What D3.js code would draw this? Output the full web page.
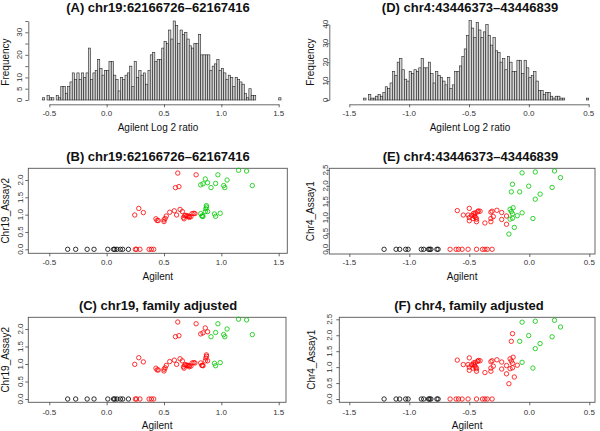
<!DOCTYPE html>
<html><head><meta charset="utf-8">
<script src="https://cdn.jsdelivr.net/npm/d3@7"></script>
<style>
html,body{margin:0;padding:0;background:#fff;}
svg{display:block;font-family:"Liberation Sans",Arial,Helvetica,sans-serif;}
</style></head>
<body><svg id="c" width="600" height="431"></svg>
<script>
// ---------- DATA ----------
// Histogram A (chr19) : bin start, bin width, counts
const histAStart = -0.56, histABin = 0.02;
const histACounts = [1,0,2,1,1,0,2,1,6,6, 3,6,8,12,9,12,9,12,10,12, 23,9,12,13,18,14,11,13,13,17,
  17,11,9,4,10,9,11,12,15,6, 17,10,13,11,12,7,13,20,21,17, 18,18,23,26,25,31,27,35,33,25,
  31,29,30,27,24,23,25,25,29,20, 20,20,20,13,15,16,18,13,14,12, 9,11,10,6,10,9,8,7,3,1,
  5,2,2, 0,0,0,0,0,0,0,0,0,0, 1];
// Histogram D (chr4)
const histDStart = -1.38, histDBin = 0.02;
const histDCounts = [1,0,3,1,1,2,3,2,4,7, 6,9,15,13,20,22,16,11,10,15, 14,16,15,17,22,17,17,20,14,9,
  15,13,12,10,8,12,6,8,15,15, 18,23,27,34,42,38,33,41,37,33, 36,40,34,29,33,26,25,20,22,16,
  23,20,15,15,21,21,14,21,17,12, 13,15,10,5,5,3,4,4,2,1, 2,2,1,1,0, 0,0,0,0,0,0,0,0, 1];

const histATicksX = [-0.5,0,0.5,1,1.5];
const histATicksY = [0,5,10,15,20,25,30,35];
const histALabelsY = [0,5,10,20,30];
const histDTicksX = [-1.5,-1,-0.5,0,0.5];
const histDTicksY = [0,10,20,30,40];

// chr19 scatter (panels B, C): Agilent vs Chr19_Assay2; group 0=black 1=red 2=green
const chr19Agilent = [
  -0.34,-0.27,-0.17,-0.11,0.01,0.06,0.07,0.09,0.12,0.14,0.19,
  0.25,0.26,0.29,0.37,0.39,0.41,
  0.62,0.78,0.60,0.63,
  0.245,0.28,0.32,0.43,0.44,0.45,0.50,0.50,0.51,0.52,0.55,0.59,0.61,0.64,0.66,0.67,0.675,0.68,0.69,0.70,0.71,0.72,0.72,0.735,0.745,0.76,0.77,
  0.82,0.84,0.86,0.88,
  0.91,0.95,0.97,1.02,1.03,1.05,1.15,1.22,1.27,
  0.82,0.83,0.835,0.84,0.86,0.865,0.87,0.87,0.88,
  0.94,0.95,0.99];
const chr19Assay2 = [
  0,0,0,0,0,0,0,0,0,0,0,
  0,0,0,0,0,0,
  2.2,2.15,1.78,1.81,
  0.99,1.18,1.06,0.88,0.83,0.83,0.85,0.80,0.89,0.96,1.07,1.11,0.99,1.15,1.09,0.92,0.88,0.97,0.98,0.96,0.96,0.92,0.95,0.94,1.03,1.04,1.03,
  1.86,1.89,2.03,1.92,
  1.78,1.90,2.15,1.84,1.78,2.0,2.28,2.26,1.84,
  1.03,0.96,0.96,0.95,1.09,1.17,1.26,1.22,1.09,
  1.02,0.95,1.04];
const chr19GroupB = [
  0,0,0,0,0,0,0,0,0,0,0,
  1,1,1,1,1,1,
  1,1,1,1,
  1,1,1,1,1,1,1,1,1,1,1,1,1,1,1,1,1,1,1,1,1,1,1,1,1,1,1,
  2,2,2,2,
  2,2,2,2,2,2,2,2,2,
  2,2,2,2,2,2,2,2,2,
  2,2,2];
const chr19GroupC = [
  0,0,0,0,0,0,0,0,0,0,0,
  1,1,1,1,1,1,
  1,1,1,1,
  1,1,1,1,1,1,1,1,1,1,1,1,1,1,1,1,1,1,1,1,1,1,1,1,1,1,1,
  1,1,1,1,
  2,2,2,2,2,2,2,2,2,
  1,1,1,1,1,1,1,1,1,
  2,2,2];

// chr4 scatter (panels E, F): Agilent vs Chr4_Assay1
const chr4Agilent = [
  -1.21,-1.11,-1.08,-1.03,-1.01,-0.90,-0.88,-0.84,-0.83,-0.82,-0.77,-0.76,
  -0.66,-0.61,-0.59,-0.56,-0.51,-0.44,-0.39,-0.37,-0.35,-0.31,
  -0.60,-0.55,-0.50,-0.51,-0.50,-0.50,-0.48,-0.47,-0.465,-0.46,-0.455,-0.45,-0.445,-0.44,-0.43,-0.425,-0.44,-0.41,
  -0.37,-0.32,-0.32,-0.32,-0.31,-0.30,-0.27,-0.23,-0.23,-0.19,-0.19,
  -0.17,-0.15,-0.14,-0.16,-0.15,-0.14,-0.135,-0.14,-0.16,-0.125,-0.10,
  -0.08,-0.06,-0.06,-0.005,0.03,0.05,0.05,0.09,0.19,0.21,0.26];
const chr4Assay1 = [
  0,0,0,0,0,0,0,0,0,0,0,0,
  0,0,0,0,0,0,0,0,0,0,
  1.22,1.08,1.29,1.08,1.0,0.90,1.07,0.97,1.13,1.08,1.03,1.15,1.0,0.95,1.18,1.21,0.87,1.20,
  0.83,0.87,0.97,1.17,1.20,1.03,1.23,1.16,0.94,0.79,1.05,
  0.48,1.81,2.05,1.26,1.19,1.12,1.31,0.98,0.95,0.69,1.06,
  1.81,2.41,1.15,1.99,0.97,2.44,1.58,1.74,1.95,2.47,2.26];
const chr4GroupE = [
  0,0,0,0,0,0,0,0,0,0,0,0,
  1,1,1,1,1,1,1,1,1,1,
  1,1,1,1,1,1,1,1,1,1,1,1,1,1,1,1,1,1,
  1,1,1,1,1,1,1,1,1,1,1,
  2,2,2,2,2,2,2,2,2,2,2,
  2,2,2,2,2,2,2,2,2,2,2];
const chr4GroupF = [
  0,0,0,0,0,0,0,0,0,0,0,0,
  1,1,1,1,1,1,1,1,1,1,
  1,1,1,1,1,1,1,1,1,1,1,1,1,1,1,1,1,1,
  1,1,1,1,1,1,1,1,1,1,1,
  1,1,1,1,1,1,1,1,1,1,1,
  2,2,2,2,2,2,2,2,2,2,2];

const scatter19TicksX = [-0.5,0,0.5,1,1.5];
const scatter19TicksY = [0,0.5,1,1.5,2];
const scatter4TicksX = [-1.5,-1,-0.5,0,0.5];
const scatter4TicksY = [0,0.5,1,1.5,2,2.5];
const groupColors = ["#000000","#FF0000","#00C800"];

// ---------- DRAWING ----------
const svg = d3.select("#c");
const fmt1 = d => d3.format(".1f")(d).replace("\u2212","-");
const tickCol = "#333";

function title(txt, x, y){
  svg.append("text").attr("x",x).attr("y",y).attr("text-anchor","middle")
    .attr("font-size",13).attr("font-weight","bold").attr("fill","#111").text(txt);
}
function yTitle(txt, x, yc){
  svg.append("text").attr("transform",`translate(${x},${yc}) rotate(-90)`)
    .attr("text-anchor","middle").attr("dy","0.35em").attr("font-size",10).attr("fill","#111").text(txt);
}
function xTitle(txt, xc, y){
  svg.append("text").attr("x",xc).attr("y",y).attr("text-anchor","middle")
    .attr("font-size",10).attr("fill","#111").text(txt);
}
function xAxis(x, yPos, ticks, showDomain, labelY){
  const g = svg.append("g").attr("transform",`translate(0,${yPos})`)
    .call(d3.axisBottom(x).tickValues(ticks).tickSize(3).tickSizeOuter(0).tickFormat(""));
  if(!showDomain) g.select(".domain").remove();
  g.selectAll("line,path").attr("stroke","#444").attr("stroke-width",0.8);
  svg.append("g").selectAll("text").data(ticks).join("text")
    .attr("x",d=>x(d)).attr("y",labelY).attr("text-anchor","middle")
    .attr("font-size",8).attr("fill",tickCol).text(fmt1);
}
function yAxis(y, xPos, ticks, labels, showDomain, labelX, f){
  const g = svg.append("g").attr("transform",`translate(${xPos},0)`)
    .call(d3.axisLeft(y).tickValues(ticks).tickSize(3).tickSizeOuter(0).tickFormat(""));
  if(!showDomain) g.select(".domain").remove();
  g.selectAll("line,path").attr("stroke","#444").attr("stroke-width",0.8);
  svg.append("g").selectAll("text").data(labels).join("text")
    .attr("transform",d=>`translate(${labelX},${y(d)}) rotate(-90)`)
    .attr("text-anchor","middle").attr("dy","0.35em")
    .attr("font-size",8).attr("fill",tickCol).text(f);
}

function histogram(cfg){
  const x = d3.scaleLinear().domain(cfg.xDom).range(cfg.xRange);
  const y = d3.scaleLinear().domain(cfg.yDom).range(cfg.yRange);
  const bins = cfg.counts.map((c,i)=>({x0:cfg.start+i*cfg.bw, x1:cfg.start+(i+1)*cfg.bw, c}));
  svg.append("g").selectAll("rect").data(bins.filter(b=>b.c>0)).join("rect")
    .attr("x",b=>x(b.x0)).attr("width",b=>x(b.x1)-x(b.x0))
    .attr("y",b=>y(b.c)).attr("height",b=>y(0)-y(b.c))
    .attr("fill","#d4d4d4").attr("stroke","#222").attr("stroke-width",0.6);
  xAxis(x, cfg.xAxisY, cfg.xTicks, true, cfg.xLabY);
  yAxis(y, cfg.yAxisX, cfg.yTicks, cfg.yLabels, true, cfg.yLabX, d=>d);
  title(cfg.title, cfg.titleX, cfg.titleY);
  xTitle("Agilent Log 2 ratio", cfg.titleX, cfg.xTitleY);
  yTitle("Frequency", cfg.yTitleX, cfg.yTitleC);
}

function scatter(cfg){
  const x = d3.scaleLinear().domain(cfg.xDom).range(cfg.xRange);
  const y = d3.scaleLinear().domain(cfg.yDom).range(cfg.yRange);
  const b = cfg.box;
  svg.append("rect").attr("x",b[0]).attr("y",b[1]).attr("width",b[2]-b[0]).attr("height",b[3]-b[1])
    .attr("fill","none").attr("stroke","#555").attr("stroke-width",0.9);
  xAxis(x, b[3], cfg.xTicks, false, cfg.xLabY);
  yAxis(y, b[0], cfg.yTicks, cfg.yTicks, false, cfg.yLabX, fmt1);
  const pts = cfg.xs.map((v,i)=>({x:v, y:cfg.ys[i], g:cfg.groups[i]}));
  svg.append("g").selectAll("circle").data(pts).join("circle")
    .attr("cx",d=>x(d.x)).attr("cy",d=>y(d.y)).attr("r",2.2)
    .attr("fill","none").attr("stroke",d=>groupColors[d.g]).attr("stroke-width",0.8);
  title(cfg.title, cfg.titleX, cfg.titleY);
  xTitle("Agilent", (b[0]+b[2])/2, cfg.xTitleY);
  yTitle(cfg.ylab, cfg.yTitleX, (b[1]+b[3])/2);
}

histogram({start:histAStart,bw:histABin,counts:histACounts,
  xDom:[-0.5,1.5],xRange:[49.3,278.7],yDom:[0,35],yRange:[100,21],
  xTicks:histATicksX,yTicks:histATicksY,yLabels:histALabelsY,
  xAxisY:104.3,xLabY:115.5,yAxisX:28.3,yLabX:19.5,
  title:"(A) chr19:62166726\u201362167416",titleX:158,titleY:11.5,xTitleY:131,yTitleX:5,yTitleC:62});
histogram({start:histDStart,bw:histDBin,counts:histDCounts,
  xDom:[-1.5,0.5],xRange:[349.3,588.7],yDom:[0,40],yRange:[100,24.3],
  xTicks:histDTicksX,yTicks:histDTicksY,yLabels:histDTicksY,
  xAxisY:104.3,xLabY:115.5,yAxisX:329.3,yLabX:325,
  title:"(D) chr4:43446373\u201343446839",titleX:470,titleY:11.5,xTitleY:131,yTitleX:310,yTitleC:62});

scatter({xs:chr19Agilent,ys:chr19Assay2,groups:chr19GroupB,
  xDom:[-0.5,1.5],xRange:[49.3,278.7],yDom:[0,2],yRange:[249.3,180],
  box:[28.3,168.3,287.3,253.3],xTicks:scatter19TicksX,yTicks:scatter19TicksY,
  xLabY:264.5,yLabX:20,title:"(B) chr19:62166726\u201362167416",titleX:158,titleY:161,
  xTitleY:279.5,ylab:"Chr19_Assay2",yTitleX:5});
scatter({xs:chr4Agilent,ys:chr4Assay1,groups:chr4GroupE,
  xDom:[-1.5,0.5],xRange:[349.3,589.3],yDom:[0,2.5],yRange:[249.3,170],
  box:[329.3,168.3,595,254],xTicks:scatter4TicksX,yTicks:scatter4TicksY,
  xLabY:264.5,yLabX:325,title:"(E) chr4:43446373\u201343446839",titleX:470.5,titleY:161,
  xTitleY:279.5,ylab:"Chr4_Assay1",yTitleX:310});
scatter({xs:chr19Agilent,ys:chr19Assay2,groups:chr19GroupC,
  xDom:[-0.5,1.5],xRange:[49.3,278.7],yDom:[0,2],yRange:[399,329],
  box:[28.3,317.3,286,402.3],xTicks:scatter19TicksX,yTicks:scatter19TicksY,
  xLabY:414.5,yLabX:20,title:"(C) chr19, family adjusted",titleX:158,titleY:310,
  xTitleY:428.5,ylab:"Chr19_Assay2",yTitleX:5});
scatter({xs:chr4Agilent,ys:chr4Assay1,groups:chr4GroupF,
  xDom:[-1.5,0.5],xRange:[349.3,589.3],yDom:[0,2.5],yRange:[399,319.3],
  box:[339.3,317.3,595,402.3],xTicks:scatter4TicksX,yTicks:scatter4TicksY,
  xLabY:414.5,yLabX:329.3,title:"(F) chr4, family adjusted",titleX:469,titleY:310,
  xTitleY:428.5,ylab:"Chr4_Assay1",yTitleX:311.7});
</script></body></html>
